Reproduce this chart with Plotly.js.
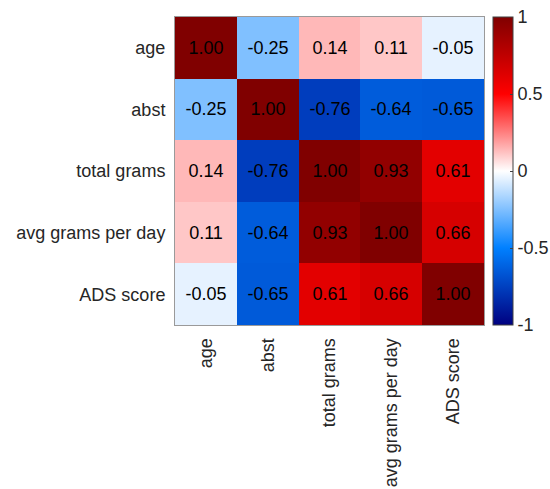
<!DOCTYPE html>
<html>
<head>
<meta charset="utf-8">
<script src="https://cdn.plot.ly/plotly-3.0.1.min.js"></script>
<style>html,body{margin:0;padding:0;background:#fff;}#chart{width:550px;height:489px;}</style>
</head>
<body>
<div id="chart"></div>
<script>
var labels = ["age", "abst", "total grams", "avg grams per day", "ADS score"];
var rowAge   = [1.00, -0.25, 0.14, 0.11, -0.05];
var rowAbst  = [-0.25, 1.00, -0.76, -0.64, -0.65];
var rowTotal = [0.14, -0.76, 1.00, 0.93, 0.61];
var rowAvg   = [0.11, -0.64, 0.93, 1.00, 0.66];
var rowADS   = [-0.05, -0.65, 0.61, 0.66, 1.00];
var colorbarTicks = [-1, -0.5, 0, 0.5, 1];
var colorbarTickText = ["-1", "-0.5", "0", "0.5", "1"];

var z = [rowAge, rowAbst, rowTotal, rowAvg, rowADS];
var fontFam = "Liberation Sans, Arial, Helvetica, sans-serif";

var trace = {
  type: "heatmap",
  x: labels,
  y: labels,
  z: z,
  zmin: -1, zmax: 1,
  colorscale: [
    [0, "rgb(0,0,128)"],
    [0.25, "rgb(0,128,255)"],
    [0.5, "rgb(255,255,255)"],
    [0.75, "rgb(255,0,0)"],
    [1, "rgb(128,0,0)"]
  ],
  texttemplate: "%{z:.2f}",
  textfont: {family: fontFam, size: 18, color: "#000"},
  hoverinfo: "skip",
  colorbar: {
    x: 1.029, xanchor: "left",
    y: 0.5, yanchor: "middle",
    len: 1, lenmode: "fraction",
    thickness: 20, thicknessmode: "pixels",
    outlinecolor: "#404040", outlinewidth: 1,
    tickvals: colorbarTicks, ticktext: colorbarTickText,
    ticks: "inside", ticklen: 3, tickcolor: "#404040",
    tickfont: {family: fontFam, size: 18, color: "#262626"},
    xpad: 0, ypad: 0
  }
};

var layout = {
  width: 550, height: 489,
  margin: {l: 175, r: 66, t: 17, b: 164, autoexpand: false},
  paper_bgcolor: "#fff", plot_bgcolor: "#fff",
  font: {family: fontFam, size: 18, color: "#262626"},
  xaxis: {
    type: "category", tickangle: -90, ticks: "", ticklabelstandoff: 5,
    showline: true, mirror: true, linecolor: "#9a9a9a", linewidth: 1,
    showgrid: false, zeroline: false, fixedrange: true,
    tickfont: {family: fontFam, size: 18, color: "#262626"}
  },
  yaxis: {
    type: "category", autorange: "reversed", ticks: "", ticklabelstandoff: 5,
    showline: true, mirror: true, linecolor: "#9a9a9a", linewidth: 1,
    showgrid: false, zeroline: false, fixedrange: true,
    tickfont: {family: fontFam, size: 18, color: "#262626"}
  }
};

Plotly.newPlot("chart", [trace], layout, {displayModeBar: false, staticPlot: true});
</script>
</body>
</html>
